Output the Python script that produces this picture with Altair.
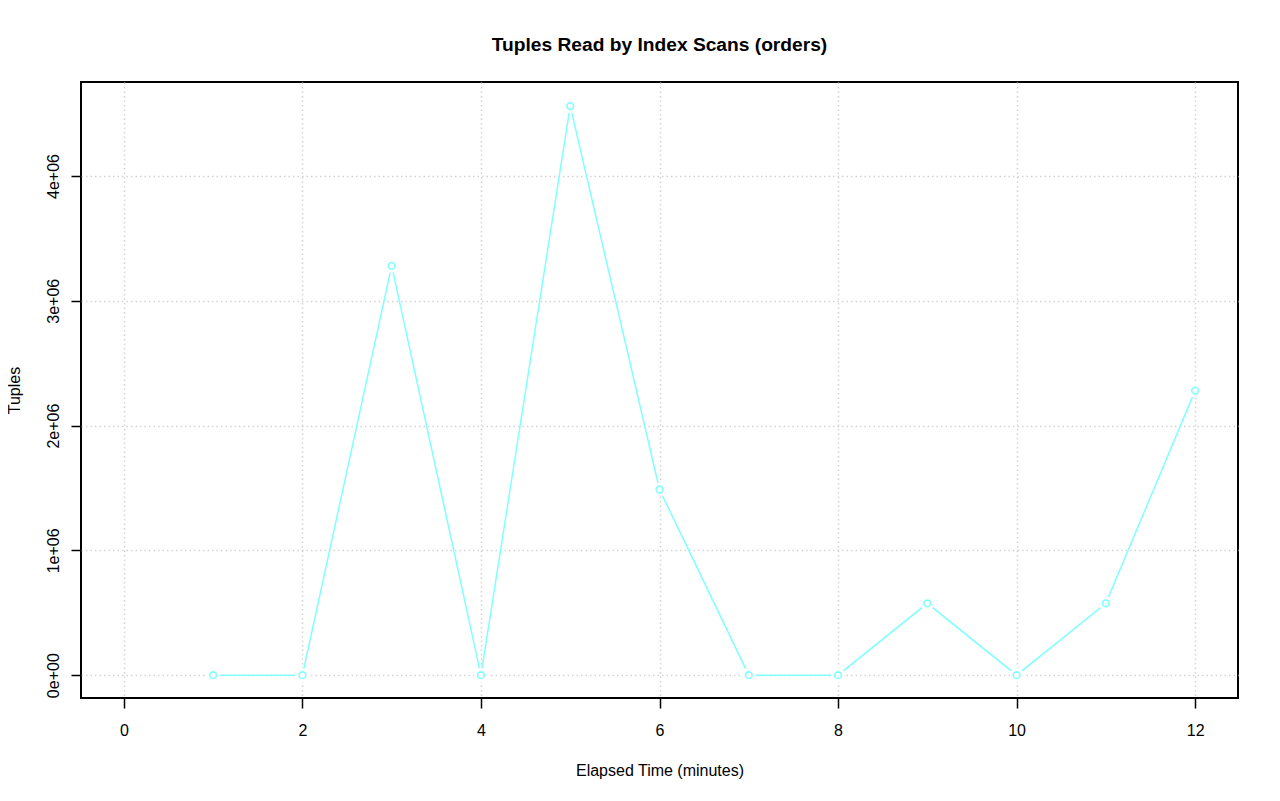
import altair as alt
import pandas as pd

minutes = [1, 2, 3, 4, 5, 6, 7, 8, 9, 10, 11, 12]
tuples = [0, 0, 3280000, 0, 4560000, 1488000, 0, 0, 576000, 0, 576000, 2280000]
x_ticks = [0, 2, 4, 6, 8, 10, 12]
y_ticks = [0, 1000000, 2000000, 3000000, 4000000]

df = pd.DataFrame({"minute": minutes, "tuples": tuples})

FONT = "Liberation Sans"
CYAN = "#80FFFF"

x_enc = alt.X(
    "minute:Q",
    scale=alt.Scale(domain=[-0.48, 12.48], nice=False, zero=False),
    axis=alt.Axis(
        values=x_ticks, format="d", title="Elapsed Time (minutes)", grid=True,
        domain=False, tickSize=10, tickWidth=1.5, tickColor="black",
        labelPadding=14, labelFontSize=16, labelFont=FONT, labelColor="black",
        titleFont=FONT, titleFontSize=16, titleFontWeight="normal", titleColor="black",
        titleBaseline="alphabetic", titleY=77,
        gridColor="#D3D3D3", gridDash=[1.5, 3], gridWidth=1.5,
        labelFlush=False,
    ),
)
y_enc = alt.Y(
    "tuples:Q",
    scale=alt.Scale(domain=[-182800, 4752800], nice=False, zero=False),
    axis=alt.Axis(
        values=y_ticks, title="Tuples", grid=True,
        domain=False, tickSize=10, tickWidth=1.5, tickColor="black",
        labelAngle=270, labelAlign="center", labelBaseline="bottom",
        labelPadding=10, labelFontSize=16, labelFont=FONT, labelColor="black",
        labelExpr="datum.value == 0 ? '0e+00' : (datum.value / 1000000) + 'e+06'",
        titleFont=FONT, titleFontSize=16, titleFontWeight="normal", titleColor="black",
        titleAngle=270, titleBaseline="alphabetic", titleX=-62, titleY=308,
        gridColor="#D3D3D3", gridDash=[1.5, 3], gridWidth=1.5,
        labelFlush=False,
    ),
)

base = alt.Chart(df)
line = base.mark_line(color=CYAN, strokeWidth=1.5).encode(x=x_enc, y=y_enc)
gaps = base.mark_point(shape="circle", filled=True, color="white", opacity=1, size=200).encode(
    x="minute:Q", y="tuples:Q"
)
pts = base.mark_point(shape="circle", filled=False, color=CYAN, strokeWidth=1.6, size=45, opacity=1).encode(
    x="minute:Q", y="tuples:Q"
)

chart = (
    alt.layer(line, gaps, pts)
    .properties(
        width=1157,
        height=616,
        title=alt.TitleParams(
            "Tuples Read by Index Scans (orders)",
            font=FONT, fontSize=19.2, fontWeight="bold", color="black",
            anchor="middle", baseline="alphabetic", offset=12,
        ),
        autosize=alt.AutoSizeParams(type="none"),
        padding={"left": 73, "top": 74, "right": 34, "bottom": 94},
    )
    .configure(background="white")
    .configure_view(stroke="black", strokeWidth=2)
)

chart.save("out.html", embed_options={"renderer": "svg", "actions": False})
